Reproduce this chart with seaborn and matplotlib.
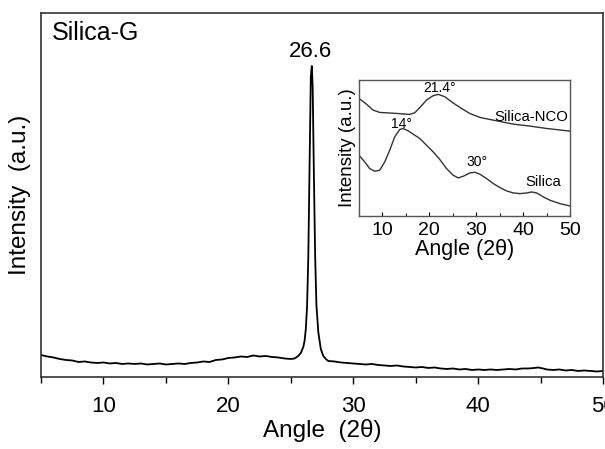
import numpy as np
import pandas as pd
import matplotlib
matplotlib.use("Agg")
import matplotlib.pyplot as plt
import seaborn as sns

# ---- main pattern: Silica-G (intensity in arbitrary units) ----
main_angle = [5.0, 5.5, 6.0, 6.5, 7.0, 7.5, 8.0, 8.5, 9.0, 9.5, 10.0, 10.5, 11.0, 11.5,
              12.0, 12.5, 13.0, 13.5, 14.0, 14.5, 15.0, 15.5, 16.0, 16.5, 17.0, 17.5,
              18.0, 18.5, 19.0, 19.5, 20.0, 20.5, 21.0, 21.5, 22.0, 22.5, 23.0, 23.5,
              24.0, 24.5, 25.0, 25.3, 25.6, 25.8, 26.0, 26.1, 26.2, 26.3, 26.4, 26.5,
              26.6, 26.68, 26.75, 26.85, 26.95, 27.05, 27.2, 27.4, 27.6, 27.8, 28.0,
              28.5, 29.0, 29.5, 30.0, 30.5, 31.0, 31.5, 32.0, 32.5, 33.0, 33.5, 34.0,
              34.5, 35.0, 35.5, 36.0, 36.5, 37.0, 37.5, 38.0, 38.5, 39.0, 39.5, 40.0,
              40.5, 41.0, 41.5, 42.0, 42.5, 43.0, 43.5, 44.0, 44.5, 44.8, 45.2, 45.5,
              46.0, 46.5, 47.0, 47.5, 48.0, 48.5, 49.0, 49.5, 50.0]
main_intensity = [22.0, 20.5, 19.5, 18.0, 17.0, 16.5, 15.0, 15.5, 14.5, 14.0, 14.5, 13.5, 14.0, 13.0,
                  13.5, 13.0, 13.5, 12.5, 13.0, 13.5, 12.5, 13.0, 13.5, 13.0, 14.0, 14.5,
                  15.5, 15.0, 17.0, 17.5, 19.0, 19.5, 20.5, 20.0, 21.5, 20.5, 21.0, 20.0,
                  19.5, 18.5, 18.0, 18.5, 21.0, 24.0, 30.0, 36.0, 48.0, 70.0, 120.0, 210.0,
                  300.0, 311.0, 290.0, 200.0, 120.0, 72.0, 45.0, 28.0, 21.0, 18.0, 16.0,
                  15.5, 14.5, 14.0, 13.5, 13.0, 12.5, 13.0, 12.0, 11.5, 11.0, 11.5, 10.5,
                  10.0, 9.5, 10.0, 9.0, 9.5, 8.5, 8.0, 8.5, 7.5, 8.0, 7.0, 7.5,
                  7.0, 7.5, 7.0, 7.5, 8.0, 7.5, 8.5, 8.5, 9.0, 9.5, 8.5, 7.5,
                  7.0, 7.5, 6.5, 7.0, 6.0, 6.5, 6.0, 5.5, 6.0]

# ---- inset patterns ----
nco_angle = [5.0, 6.57, 8.0, 9.4, 13.0, 15.8, 16.9, 18.0, 19.4, 20.8, 21.9, 23.3,
             24.7, 26.5, 28.6, 30.8, 34.3, 37.9, 41.5, 45.0, 50.0]
nco_intensity = [352, 335, 317, 310, 307, 304, 309, 325, 347, 360, 364, 357,
                 342, 325, 307, 295, 285, 275, 269, 262, 254]

silica_angle = [5.0, 6.21, 7.28, 8.35, 9.42, 10.49, 11.55, 12.62, 13.69, 14.40, 15.47, 16.54,
                17.96, 19.39, 20.81, 22.24, 23.66, 25.09, 26.16, 27.23, 28.65, 29.72, 30.79,
                32.21, 33.64, 35.06, 36.49, 37.91, 39.34, 40.76, 41.83, 42.90, 44.32, 45.75,
                47.88, 50.0]
silica_intensity = [182, 162, 142, 134, 137, 162, 197, 237, 259, 262, 255, 245,
                    232, 212, 192, 169, 142, 122, 114, 119, 129, 131, 125,
                    112, 97, 85, 75, 69, 67, 69, 72, 69, 57, 47,
                    37, 30]

main_ticks = [10, 20, 30, 40, 50]
inset_ticks = [10, 20, 30, 40, 50]

sns.set_style("ticks")
plt.rcParams['font.family'] = ['Liberation Sans', 'DejaVu Sans']
plt.rcParams['text.color'] = 'black'
plt.rcParams['axes.labelcolor'] = 'black'

fig = plt.figure(figsize=(6.05, 4.49), dpi=100)
ax = fig.add_axes([0.0678, 0.1604, 0.929, 0.8107])

df_main = pd.DataFrame({"angle": main_angle, "intensity": main_intensity})
sns.lineplot(data=df_main, x="angle", y="intensity", ax=ax, color="black", lw=1.3,
             estimator=None, sort=False)
ax.set_xlim(5, 50)
ax.set_ylim(0, 364)
ax.set_xticks(main_ticks)
ax.set_xticks(np.arange(5, 51, 10), minor=True)
ax.set_yticks([])
ax.tick_params(axis='x', which='major', direction='out', length=5, width=1,
               labelsize=16, colors='black', pad=9)
ax.tick_params(axis='x', which='minor', direction='out', length=4, width=1, colors='black')
for s in ax.spines.values():
    s.set_color('#333333')
    s.set_linewidth(1.2)
ax.set_xlabel("Angle  (2θ)", fontsize=17.5, labelpad=1)
ax.set_ylabel("Intensity  (a.u.)", fontsize=17.5, labelpad=7)
ax.text(0.02, 0.945, "Silica-G", transform=ax.transAxes, fontsize=18, ha='left', va='center')
ax.text(26.6, 325, "26.6", fontsize=16, ha='center', va='center')

# inset
ins = fig.add_axes([0.5934, 0.5189, 0.3488, 0.3029])
df_nco = pd.DataFrame({"angle": nco_angle, "intensity": nco_intensity})
df_si = pd.DataFrame({"angle": silica_angle, "intensity": silica_intensity})
sns.lineplot(data=df_nco, x="angle", y="intensity", ax=ins, color="#333333", lw=1.0,
             estimator=None, sort=False)
sns.lineplot(data=df_si, x="angle", y="intensity", ax=ins, color="#333333", lw=1.0,
             estimator=None, sort=False)
ins.set_xlim(5, 50)
ins.set_ylim(0, 407)
ins.set_xticks(inset_ticks)
ins.set_xticks(np.arange(5, 51, 10), minor=True)
ins.set_yticks([])
ins.tick_params(axis='x', which='major', direction='in', length=3, width=0.8,
                labelsize=14, colors='black', pad=4)
ins.tick_params(axis='x', which='minor', direction='in', length=2, width=0.8)
for s in ins.spines.values():
    s.set_color('#555555')
    s.set_linewidth(1.0)
ins.set_xlabel("Angle (2θ)", fontsize=15.5, labelpad=0)
ins.set_ylabel("Intensity (a.u.)", fontsize=13.5, labelpad=2)
ins.text(22.2, 382, "21.4°", fontsize=10, ha='center', va='center')
ins.text(14.05, 275, "14°", fontsize=10, ha='center', va='center')
ins.text(30.1, 162, "30°", fontsize=10, ha='center', va='center')
ins.text(41.8, 297, "Silica-NCO", fontsize=10.7, ha='center', va='center')
ins.text(44.3, 102, "Silica", fontsize=10.7, ha='center', va='center')

fig.savefig("out.png", dpi=100)
